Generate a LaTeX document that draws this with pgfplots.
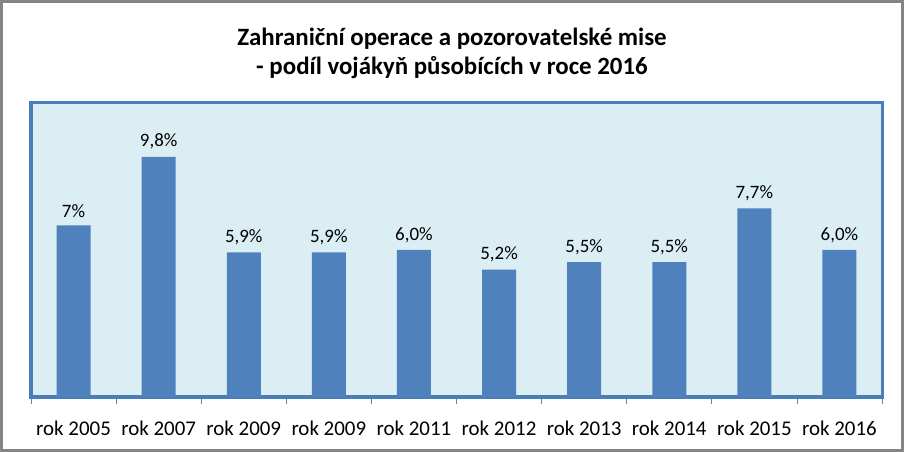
\documentclass[border=0pt]{standalone}
\usepackage{pgfplots}
\pgfplotsset{compat=1.18}
\usepackage{fontspec}
\setmainfont{Carlito}
\definecolor{barblue}{HTML}{4F81BD}
\definecolor{framblue}{HTML}{4A7EBB}
\definecolor{plotbg}{HTML}{DBEEF4}
\definecolor{outergray}{HTML}{858585}
\begin{document}
\begin{tikzpicture}
\useasboundingbox (0,0) rectangle (904bp,452bp);
\fill[white] (0,0) rectangle (904bp,452bp);
\draw[outergray, line width=3bp] (1.5bp,1.5bp) rectangle (902.5bp,450.5bp);
\node[font=\fontsize{25}{29}\selectfont\bfseries, align=center] at (452bp,399bp)
  {Zahraniční operace a pozorovatelské mise\\- podíl vojákyň působících v roce 2016};
\begin{axis}[
  at={(31bp,55bp)}, anchor=south west,
  scale only axis, width=851bp, height=294bp,
  xmin=-0.5, xmax=9.5, ymin=0, ymax=12,
  axis line style={framblue, line width=3bp},
  ybar, bar width=34bp,
  ytick=\empty,
  xtick={0,...,9},
  xticklabels={rok 2005, rok 2007, rok 2009, rok 2009, rok 2011, rok 2012, rok 2013, rok 2014, rok 2015, rok 2016},
  major x tick style={draw=none},
  minor xtick={-0.5,0.5,...,9.5},
  minor x tick style={gray, line width=0.8bp},
  tick align=outside,
  minor tick length=7bp,
  x tick label style={font=\fontsize{21}{24}\selectfont, yshift=-16bp},
  axis x line*=bottom, axis y line=none,
  point meta=explicit symbolic,
  nodes near coords,
  nodes near coords style={font=\fontsize{19}{22}\selectfont, black, yshift=4bp},
  clip=false,
]
\draw[framblue, line width=3bp, fill=plotbg] (axis cs:-0.5,0) rectangle (axis cs:9.5,12);
\addplot[fill=barblue, draw=none] coordinates {
(0,7.0) [7\%]
(1,9.8) [9,8\%]
(2,5.9) [5,9\%]
(3,5.9) [5,9\%]
(4,6.0) [6,0\%]
(5,5.2) [5,2\%]
(6,5.5) [5,5\%]
(7,5.5) [5,5\%]
(8,7.7) [7,7\%]
(9,6.0) [6,0\%]
};
\end{axis}
\end{tikzpicture}
\end{document}
